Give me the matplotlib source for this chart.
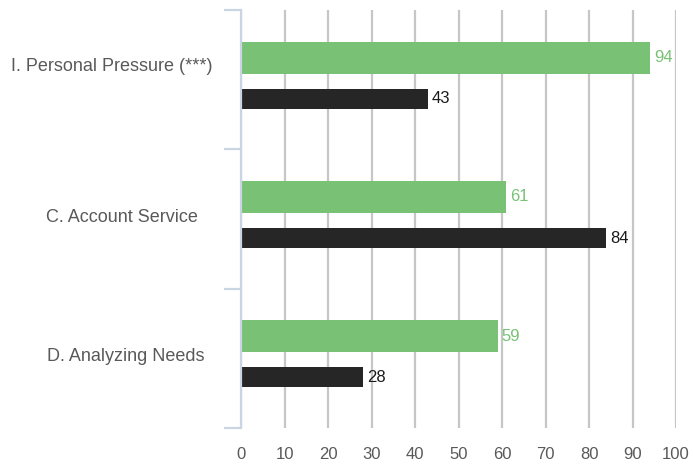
import numpy as np
import matplotlib.pyplot as plt
from matplotlib.transforms import offset_copy

plt.rcParams['font.family'] = ['Liberation Sans', 'DejaVu Sans']

categories = ['I. Personal Pressure (***)', 'C. Account Service', 'D. Analyzing Needs']
green_values = [94, 61, 59]
black_values = [43, 84, 28]
x_ticks = [0, 10, 20, 30, 40, 50, 60, 70, 80, 90, 100]

green = '#78c175'
dark = '#262626'
text_gray = '#595959'

fig = plt.figure(figsize=(6.93, 4.71), dpi=100)
ax = fig.add_axes([0.3478, 0.0913, 0.6277, 0.8875])

y = np.arange(len(categories))
ax.barh(y - 0.158, green_values, height=0.23, color=green, zorder=3)
ax.barh(y + 0.137, black_values, height=0.144, color=dark, zorder=3)

for yi, gv, bv in zip(y, green_values, black_values):
    tr = offset_copy(ax.transData, fig=fig, x=4, y=0, units='dots')
    ax.text(gv, yi - 0.158, str(gv), transform=tr, color=green,
            fontsize=12, va='center', ha='left')
    ax.text(bv, yi + 0.137, str(bv), transform=tr, color='#1a1a1a',
            fontsize=12, va='center', ha='left')

ax.set_xlim(0, 100)
ax.set_ylim(len(categories) - 0.5, -0.5)
ax.set_xticks(x_ticks)
ax.set_xticklabels([str(t) for t in x_ticks])
ax.tick_params(axis='x', length=0, pad=14, labelsize=12, labelcolor=text_gray)
ax.grid(axis='x', color='#c6c6c6', linewidth=1.6, zorder=0)

# y axis: boundary ticks only, labels placed as text
ax.set_yticks(np.arange(len(categories) + 1) - 0.5)
ax.set_yticklabels([])
ax.tick_params(axis='y', length=12, width=1.6, color='#c9d5e3')

label_x = [-0.297, -0.273, -0.264]
label_shift = [-0.097, -0.01, -0.015]
for yi, name, lx, s in zip(y, categories, label_x, label_shift):
    ax.text(lx, yi + s, name, transform=ax.get_yaxis_transform(),
            ha='center', va='center', fontsize=13, color=text_gray)

for side in ['top', 'right', 'bottom']:
    ax.spines[side].set_visible(False)
ax.spines['left'].set_color('#c9d5e3')
ax.spines['left'].set_linewidth(1.6)
ax.spines['left'].set_zorder(4)

fig.savefig('out.png', dpi=100)
